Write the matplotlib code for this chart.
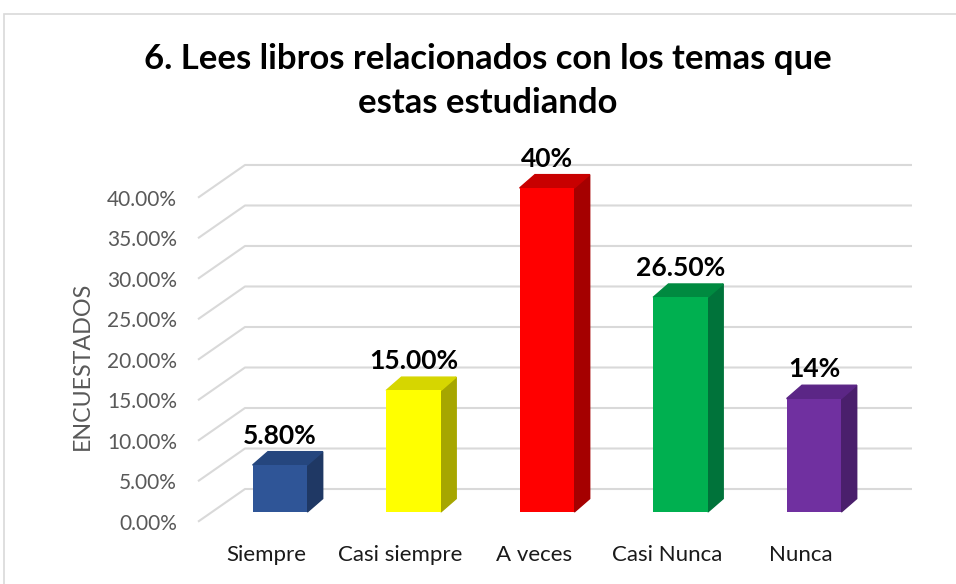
import numpy as np
import matplotlib.pyplot as plt
from matplotlib.patches import Polygon, Rectangle

plt.rcParams['font.family'] = ['Lato', 'DejaVu Sans']

categories = ['Siempre', 'Casi siempre', 'A veces', 'Casi Nunca', 'Nunca']
values = [5.8, 15.0, 40.0, 26.5, 14.0]
value_labels = ['5.80%', '15.00%', '40%', '26.50%', '14%']
yticks = [0, 5, 10, 15, 20, 25, 30, 35, 40]
ytick_labels = ['0.00%', '5.00%', '10.00%', '15.00%', '20.00%', '25.00%',
                '30.00%', '35.00%', '40.00%']
title_lines = ['6. Lees libros relacionados con los temas que', 'estas estudiando']

front_colors = ['#2F5597', '#FFFF00', '#FF0000', '#00B050', '#7030A0']
side_colors = ['#1F3864', '#A6A600', '#A50000', '#00733A', '#4A1F6C']
top_colors = ['#25467E', '#D6D600', '#C80000', '#008A40', '#5B2686']

W, H = 956, 584
fig = plt.figure(figsize=(W / 100, H / 100), dpi=100)
renderer = fig.canvas.get_renderer()


def fit(txt, target_px, **kw):
    # font size that gives the text the wanted width in pixels
    t = fig.text(0, 0, txt, fontsize=10, **kw)
    w = t.get_window_extent(renderer).width
    t.remove()
    return 10 * target_px / w


title_fs = fit(title_lines[0], 690, fontweight='bold')
tick_fs = fit('40.00%', 70)
cat_fs = fit('Casi siempre', 124)
val_fs = fit('5.80%', 74, fontweight='bold')
ylab_fs = fit('ENCUESTADOS', 167)

# chart border (Excel chart area)
fig.patches.append(Rectangle((4 / W, -0.1), 1.1, (H - 14) / H + 0.1,
                             transform=fig.transFigure, fill=False,
                             edgecolor='#D9D9D9', linewidth=1.2))

ax = fig.add_axes([190 / W, (H - 540) / H, 740 / W, 390 / H])
ax.set_xlim(-0.674, 4.869)
ax.set_ylim(-3.457, 44.69)
for s in ax.spines.values():
    s.set_visible(False)

# 3d look offsets (data units)
bar_w = 0.41
dx, dy = 0.115, 1.65
drop = 1.2       # front edge of floor below bar base
rise = 2.84      # back wall gridline above bar base
x_front, x_back, x_end = -0.614, -0.262, 4.734

for v in yticks:
    ax.plot([x_front, x_back, x_end], [v - drop, v + rise, v + rise],
            color='#D9D9D9', lw=1.5, zorder=0, solid_capstyle='butt')

x = np.arange(len(categories))
ax.bar(x, values, width=bar_w, color=front_colors, zorder=3)
for i, h in enumerate(values):
    x0 = x[i] - bar_w / 2
    x1 = x[i] + bar_w / 2
    ax.add_patch(Polygon([(x1, 0), (x1, h), (x1 + dx, h + dy), (x1 + dx, dy)],
                         closed=True, color=side_colors[i], zorder=2))
    ax.add_patch(Polygon([(x0, h), (x1, h), (x1 + dx, h + dy), (x0 + dx, h + dy)],
                         closed=True, color=top_colors[i], zorder=2))
    ax.text(x[i], h + dy + 1.0, value_labels[i], ha='center', va='baseline',
            fontsize=val_fs, fontweight='bold', color='black')

ax.set_yticks(np.array(yticks) - drop)
ax.set_yticklabels(ytick_labels, fontsize=tick_fs, color='#595959')
ax.set_xticks(x - 0.1)
ax.set_xticklabels(categories, fontsize=cat_fs, color='#1a1a1a')
ax.tick_params(axis='y', length=0, pad=9.5)
ax.tick_params(axis='x', length=0, pad=3.5)

fig.text(82 / W, 1 - 366 / H, 'ENCUESTADOS', rotation=90, ha='center',
         va='center', fontsize=ylab_fs, color='#595959')

for line, base in zip(title_lines, [69, 113]):
    fig.text(488 / W, 1 - base / H, line, ha='center', va='baseline',
             fontsize=title_fs, fontweight='bold', color='black')

fig.savefig('out.png', dpi=100)
